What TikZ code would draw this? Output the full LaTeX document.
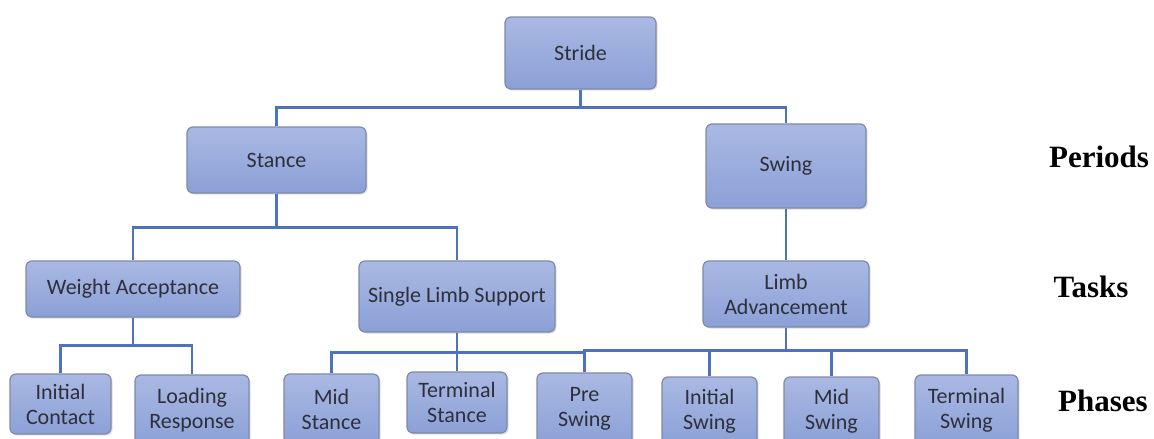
\documentclass[tikz,border=0pt]{standalone}
\usepackage{fontspec}
\setmainfont{Carlito}
\newfontfamily\labelfont{Liberation Serif}
\usetikzlibrary{shadows}
\definecolor{boxtop}{HTML}{AAB9E3}
\definecolor{boxbot}{HTML}{8BA0D7}
\definecolor{boxline}{HTML}{7E8AA8}
\definecolor{boxtext}{HTML}{2E2F3A}
\definecolor{linkblue}{HTML}{4D73BF}

\begin{document}
\begin{tikzpicture}[x=1pt,y=-1pt,
      box/.style={draw=boxline,line width=1.2pt,rounded corners=6pt,
        top color=boxtop,bottom color=boxbot,text=boxtext,
        drop shadow={opacity=0.25,shadow xshift=1.5pt,shadow yshift=-1.5pt},
        inner sep=0pt,align=center,font=\fontsize{22}{25}\selectfont},
      link/.style={draw=linkblue,line width=2.4pt},
      tag/.style={font=\labelfont\bfseries\fontsize{31}{36}\selectfont}]
  \fill[white] (0,0) rectangle (1154,439);
  \useasboundingbox (0,0) rectangle (1154,439);
  \clip (0,0) rectangle (1154,439);

  % periods
  \node[box,minimum width=151,minimum height=72] (stride) at (580.5,53) {Stride};
  \node[box,minimum width=179,minimum height=66] (stance) at (276.5,160) {Stance};
  \node[box,minimum width=160,minimum height=84] (swing) at (786,166) {Swing};
  % tasks
  \node[box,minimum width=214,minimum height=56] (wa) at (133,289) {Weight Acceptance};
  \node[box,minimum width=196,minimum height=71] (sls) at (457,296.5) {Single Limb Support};
  \node[box,minimum width=166,minimum height=66] (la) at (786,294) {Limb\\Advancement};
  % phases
  \node[box,minimum width=101,minimum height=60] (ic) at (60.5,404) {Initial\\Contact};
  \node[box,minimum width=114,minimum height=70] (lr) at (192,410) {Loading\\Response};
  \node[box,minimum width=95,minimum height=70] (ms) at (331.5,409) {Mid\\Stance};
  \node[box,minimum width=100,minimum height=61] (ts) at (457,402.5) {Terminal\\Stance};
  \node[box,minimum width=95,minimum height=72] (ps) at (584.5,409) {Pre\\Swing};
  \node[box,minimum width=95,minimum height=68] (is) at (709.5,411) {Initial\\Swing};
  \node[box,minimum width=95,minimum height=68] (msw) at (831.5,411) {Mid\\Swing};
  \node[box,minimum width=103,minimum height=70] (tsw) at (966.5,410) {Terminal\\Swing};

  \node[tag] (periods) at (1099,157) {Periods};
  \node[tag] (tasks) at (1091,287) {Tasks};
  \node[tag] (phases) at (1103,401) {Phases};

  \foreach \c in {stance,swing}
    \draw[link] (stride.south) -- ++(0,18) -| (\c.north);
  \foreach \c in {wa,sls}
    \draw[link] (stance.south) -- ++(0,34) -| (\c.north);
  \draw[link] (swing.south) -- (la.north);
  \foreach \c in {ic,lr}
    \draw[link] (wa.south) -- ++(0,28) -| (\c.north);
  \foreach \c in {ms,ts,ps}
    \draw[link] (sls.south) -- ++(0,20) -| (\c.north);
  \foreach \c in {ps,is,msw,tsw}
    \draw[link] (la.south) -- ++(0,23) -| (\c.north);
\end{tikzpicture}
\end{document}
